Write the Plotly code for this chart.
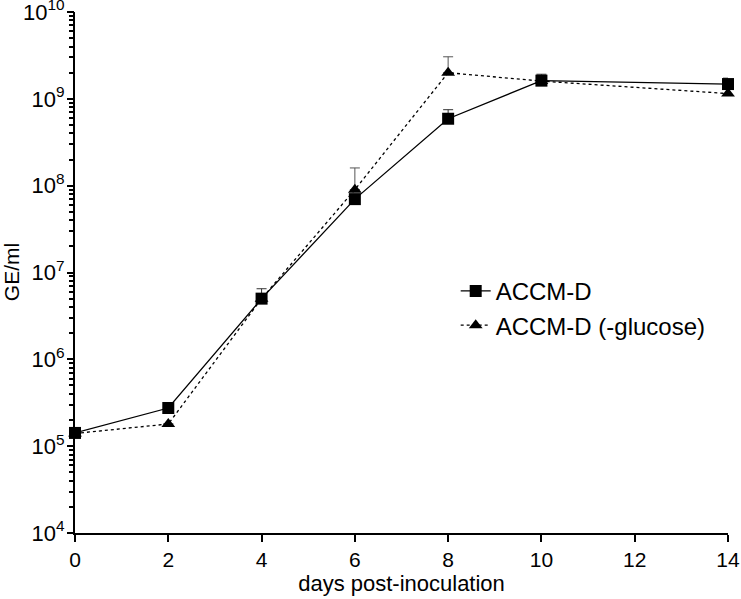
import plotly.graph_objects as go

days = [0, 2, 4, 6, 8, 10, 14]
accm_d = [1.42e5, 2.75e5, 5.0e6, 7.0e7, 5.9e8, 1.62e9, 1.48e9]
accm_d_err = [0, 0, 1.5e6, 0, 1.6e8, 3.0e8, 2.5e8]
accm_glc = [1.40e5, 1.8e5, 5.0e6, 9.0e7, 2.0e9, 1.6e9, 1.15e9]
accm_glc_err = [0, 0, 0, 7.0e7, 1.05e9, 0, 0]

y_major = [1e4, 1e5, 1e6, 1e7, 1e8, 1e9, 1e10]
y_major_text = ["10<sup>4</sup>", "10<sup>5</sup>", "10<sup>6</sup>", "10<sup>7</sup>",
                "10<sup>8</sup>", "10<sup>9</sup>", "10<sup>10</sup>"]
y_minor = [k * 10**e for e in range(4, 10) for k in range(2, 10)]
x_ticks = [0, 2, 4, 6, 8, 10, 12, 14]

font = "Liberation Sans, Arial, sans-serif"
yrange = [3.9999, 10.0001]

all_vals = y_major + y_minor
all_text = y_major_text + [""] * len(y_minor)

fig = go.Figure()
fig.add_trace(go.Scatter(
    x=days, y=accm_glc, name="ACCM-D (-glucose)", mode="lines+markers",
    line=dict(color="black", width=1.3, dash="3px,3px"),
    marker=dict(symbol="triangle-up", size=12, color="black"),
    error_y=dict(type="data", array=accm_glc_err, arrayminus=[0]*len(days), symmetric=False,
                 color="#555555", thickness=1, width=5),
    cliponaxis=False,
))
fig.add_trace(go.Scatter(
    x=days, y=accm_d, name="ACCM-D", mode="lines+markers",
    line=dict(color="black", width=1.3),
    marker=dict(symbol="square", size=12, color="black"),
    error_y=dict(type="data", array=accm_d_err, arrayminus=[0]*len(days), symmetric=False,
                 color="#333333", thickness=1, width=5),
    cliponaxis=False,
))
fig.add_trace(go.Scatter(
    x=days[:1], y=accm_d[:1], yaxis="y2", mode="markers",
    marker=dict(opacity=0), showlegend=False, hoverinfo="skip",
))

fig.update_layout(
    template="none",
    width=741, height=599,
    margin=dict(l=75, r=13, t=12, b=66, autoexpand=False),
    paper_bgcolor="white", plot_bgcolor="white",
    font=dict(family=font, color="black", size=20),
    showlegend=True,
    legend=dict(x=0.583, y=0.507, xanchor="left", yanchor="top", traceorder="reversed",
                font=dict(size=24, family=font), bgcolor="rgba(0,0,0,0)",
                itemwidth=30, tracegroupgap=0),
    xaxis=dict(range=[0, 14], tickvals=x_ticks, ticks="outside", ticklen=7, tickwidth=2,
               tickcolor="black", automargin=False,
               showline=True, linecolor="black", linewidth=2, showgrid=False, zeroline=False,
               tickfont=dict(size=21), ticklabeloverflow="allow",
               title=dict(text="days post-inoculation", font=dict(size=22), standoff=4)),
    yaxis=dict(type="log", range=yrange, tickvals=all_vals, ticktext=all_text,
               ticks="outside", ticklen=4, tickwidth=2, tickcolor="black",
               ticklabeloverflow="allow", automargin=False,
               showline=True, linecolor="black", linewidth=2, showgrid=False, zeroline=False,
               tickfont=dict(size=22)),
    yaxis2=dict(type="log", range=yrange, overlaying="y", side="left", anchor="x",
                tickvals=y_major, ticks="outside", ticklen=7, tickwidth=2, tickcolor="black",
                automargin=False,
                showticklabels=False, showline=False, showgrid=False, zeroline=False),
    annotations=[dict(text="GE/ml", xref="paper", yref="paper", x=-0.097, y=0.5,
                      textangle=-90, showarrow=False, font=dict(size=21, family=font),
                      xanchor="center", yanchor="middle")],
)

fig.write_html("out.html", config={"displayModeBar": False},
               post_script="document.body.style.margin='0';document.body.style.overflow='hidden';")
